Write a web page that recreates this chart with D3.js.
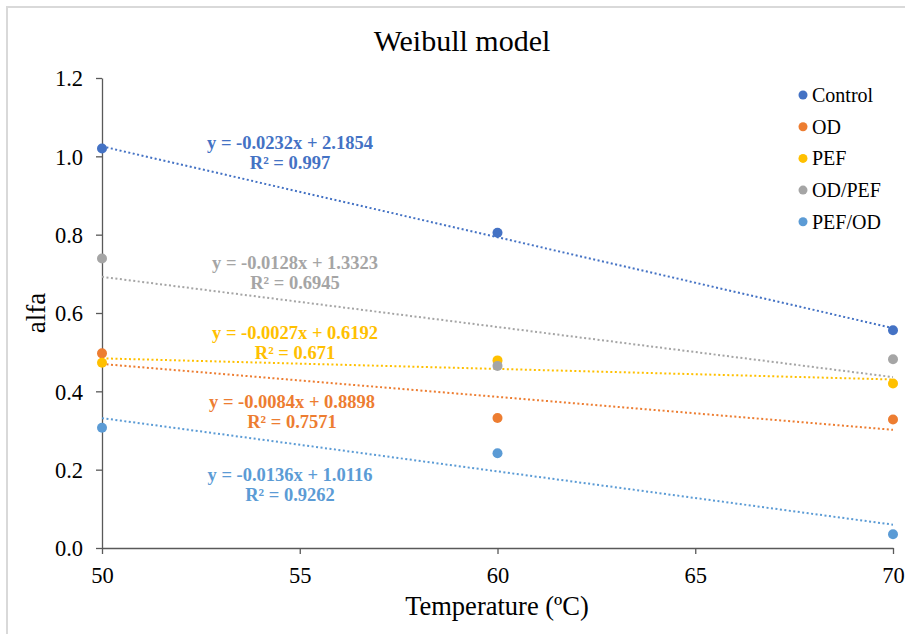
<!DOCTYPE html>
<html lang="en">
  <head>
    <meta charset="utf-8">
    <script src="https://d3js.org/d3.v7.min.js"></script>
    <title>Weibull model</title>
    <style>
      body { margin: 0; background: #fff; }
      svg text { font-family: "Liberation Serif", "Times New Roman", serif; }
    </style>
  </head>
  <body>
    <script>
      // data
      var temps = [50, 60, 70];
      var seriesNames = ["Control", "OD", "PEF", "OD/PEF", "PEF/OD"];
      var control = [1.02, 0.805, 0.556];
      var od = [0.497, 0.332, 0.328];
      var pef = [0.473, 0.479, 0.42];
      var odPef = [0.739, 0.465, 0.482];
      var pefOd = [0.307, 0.242, 0.035];
      var slopes = [-0.0232, -0.0084, -0.0027, -0.0128, -0.0136];
      var intercepts = [2.1854, 0.8898, 0.6192, 1.3323, 1.0116];
      var r2 = ["0.997", "0.7571", "0.671", "0.6945", "0.9262"];
      var xTicks = [50, 55, 60, 65, 70];
      var yTicks = [0, 0.2, 0.4, 0.6, 0.8, 1.0, 1.2];

      var colors = ["#4472C4", "#ED7D31", "#FFC000", "#A5A5A5", "#5B9BD5"];
      var values = [control, od, pef, odPef, pefOd];
      // where each equation label sits (x centre, baseline of first line)
      var labelPos = [[290, 149], [292, 408], [295, 339], [295, 269], [290, 481]];
      var serif = "'Liberation Serif', 'Times New Roman', serif";

      var width = 905, height = 634;
      var svg = d3.select("body").append("svg")
        .attr("width", width)
        .attr("height", height);

      svg.append("rect")
        .attr("x", 7).attr("y", 7)
        .attr("width", width + 10).attr("height", height + 10)
        .attr("fill", "none")
        .attr("stroke", "#d9d9d9")
        .attr("stroke-width", 2);

      var x = d3.scaleLinear().domain([50, 70]).range([102, 893]);
      var y = d3.scaleLinear().domain([0, 1.2]).range([548, 78]);

      // axes
      var xAxis = svg.append("g")
        .attr("transform", "translate(0," + y(0) + ")")
        .call(d3.axisBottom(x).tickValues(xTicks).tickSize(6).tickSizeOuter(0).tickFormat(d3.format("d")));
      var yAxis = svg.append("g")
        .attr("transform", "translate(" + x(50) + ",0)")
        .call(d3.axisLeft(y).tickValues(yTicks).tickSize(6).tickSizeOuter(0).tickFormat(d3.format(".1f")));

      [xAxis, yAxis].forEach(function (g) {
        g.select(".domain").attr("stroke", "#595959").attr("stroke-width", 1.3);
        g.selectAll(".tick line").attr("stroke", "#595959").attr("stroke-width", 1.3);
        g.selectAll(".tick text").attr("fill", "#000").style("font-size", "22.5px")
          .style("font-family", serif);
      });
      xAxis.selectAll(".tick text").attr("y", 14).attr("dy", "0.95em");
      yAxis.selectAll(".tick text").attr("x", -19).attr("dy", "0.35em");

      // trendlines
      seriesNames.forEach(function (name, i) {
        svg.append("line")
          .attr("x1", x(50)).attr("y1", y(slopes[i] * 50 + intercepts[i]))
          .attr("x2", x(70)).attr("y2", y(slopes[i] * 70 + intercepts[i]))
          .attr("stroke", colors[i])
          .attr("stroke-width", 2)
          .attr("stroke-dasharray", "2 2.5");
      });

      // points
      seriesNames.forEach(function (name, i) {
        svg.append("g").selectAll("circle")
          .data(values[i])
          .enter().append("circle")
          .attr("cx", function (d, j) { return x(temps[j]); })
          .attr("cy", function (d) { return y(d); })
          .attr("r", 5)
          .attr("fill", colors[i]);
      });

      // equation labels
      seriesNames.forEach(function (name, i) {
        var t = svg.append("text")
          .attr("x", labelPos[i][0]).attr("y", labelPos[i][1])
          .attr("text-anchor", "middle")
          .attr("fill", colors[i])
          .style("font-family", serif)
          .style("font-size", "18.5px")
          .style("font-weight", "bold");
        t.append("tspan").attr("x", labelPos[i][0])
          .text("y = " + slopes[i] + "x + " + intercepts[i]);
        t.append("tspan").attr("x", labelPos[i][0]).attr("dy", 20)
          .text("R\u00B2 = " + r2[i]);
      });

      // legend
      var legend = svg.append("g").selectAll("g")
        .data(seriesNames)
        .enter().append("g")
        .attr("transform", function (d, i) { return "translate(803," + (95 + i * 31.7) + ")"; });
      legend.append("circle").attr("r", 4.5).attr("fill", function (d, i) { return colors[i]; });
      legend.append("text").attr("x", 9).attr("dy", "0.35em")
        .style("font-family", serif)
        .style("font-size", "20px")
        .text(function (d) { return d; });

      // titles
      svg.append("text")
        .attr("x", 462).attr("y", 51)
        .attr("text-anchor", "middle")
        .style("font-family", serif)
        .style("font-size", "30px")
        .text("Weibull model");
      svg.append("text")
        .attr("x", 497).attr("y", 615)
        .attr("text-anchor", "middle")
        .style("font-family", serif)
        .style("font-size", "26.5px")
        .text("Temperature (\u00BAC)");
      svg.append("text")
        .attr("transform", "translate(45,313) rotate(-90)")
        .attr("text-anchor", "middle")
        .style("font-family", serif)
        .style("font-size", "27px")
        .text("alfa");
    </script>
  </body>
</html>
